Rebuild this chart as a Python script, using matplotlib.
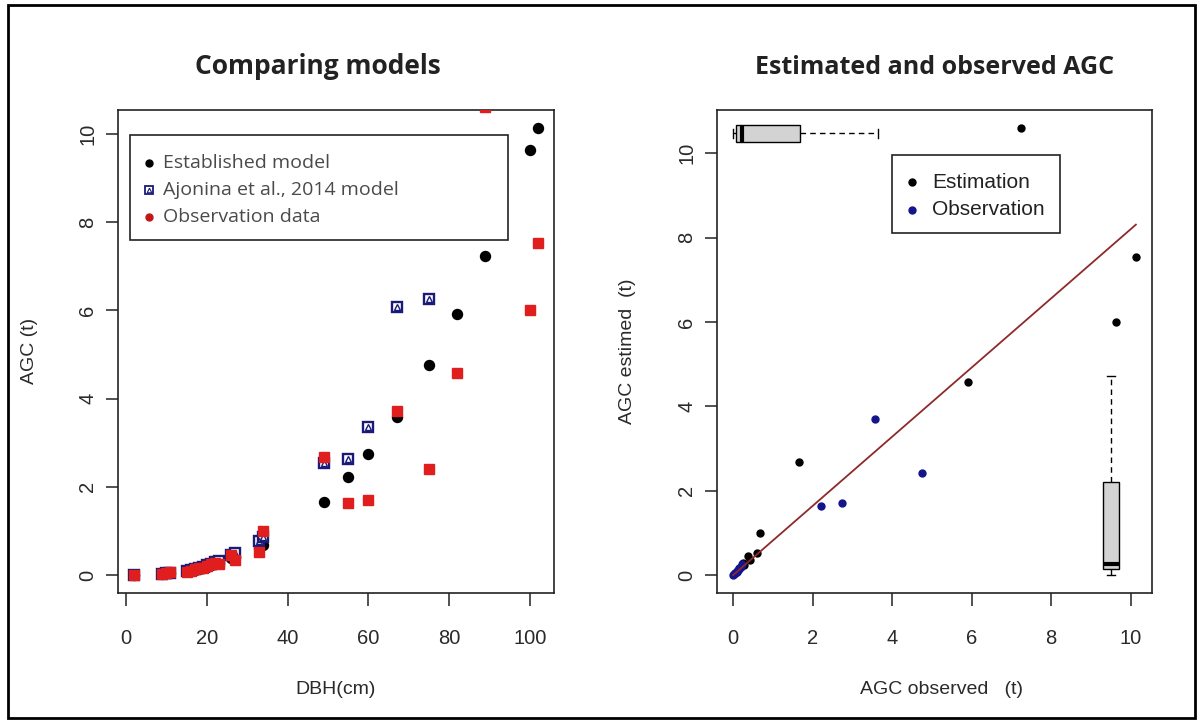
import matplotlib
matplotlib.use('Agg')
import matplotlib.pyplot as plt
from matplotlib.patches import Rectangle

W, H = 1203, 724

# diameter classes (cm) and carbon stock (t)
dbh = [2, 9, 10, 11, 15, 16, 17, 18, 19, 20, 21, 22, 23, 26, 27, 33, 34,
       49, 55, 60, 67, 75, 82, 89, 100, 102]
agc_established = [0.0, 0.03, 0.04, 0.05, 0.09, 0.10, 0.12, 0.14, 0.16, 0.19, 0.22, 0.25, 0.28,
                   0.38, 0.42, 0.61, 0.68, 1.66, 2.22, 2.74, 3.58, 4.76, 5.91, 7.23, 9.63, 10.13]
agc_observed = [0.0, 0.02, 0.04, 0.06, 0.07, 0.10, 0.13, 0.15, 0.17, 0.20, 0.26, 0.28, 0.25,
                0.45, 0.35, 0.53, 1.0, 2.68, 1.64, 1.70, 3.71, 2.41, 4.58, 10.6, 6.01, 7.53]
# Ajonina et al. 2014 model, only the trees that fall inside the plot
agc_ajonina = [0.0, 0.03, 0.04, 0.05, 0.10, 0.12, 0.14, 0.16, 0.18, 0.22, 0.26, 0.30,
               0.33, 0.45, 0.50, 0.78, 0.86, 2.55, 2.64, 3.36, 6.07, 6.25]

# which pairs are drawn black / blue on the second panel
idx_estimation = [11, 12, 13, 14, 15, 16, 17, 22, 23, 24, 25]
idx_observation = [0, 1, 2, 3, 4, 5, 6, 7, 8, 9, 10, 18, 19, 20, 21]

fit_intercept, fit_slope = 0.0, 0.82

# boxplot summaries
box_x = dict(whislo=0.0, q1=0.08, med=0.22, q3=1.67, whishi=3.65)
box_y = dict(whislo=0.0, q1=0.14, med=0.26, q3=2.21, whishi=4.71)

red = '#e01e1e'
navy = '#1a1a78'
blue = '#14148c'
txt = '#2a2a2a'
sans = 'Liberation Sans'


def px(x, y):
    return x / W, 1 - y / H


def r_lim(v):
    lo, hi = min(v), max(v)
    d = (hi - lo) * 0.04
    return lo - d, hi + d


def style(ax):
    for s in ax.spines.values():
        s.set_linewidth(1.2)
        s.set_color('#222222')
    ax.tick_params(length=9, width=1.1, color='#222222', labelsize=14.5, labelcolor=txt)
    ax.tick_params(axis='x', pad=17)
    ax.tick_params(axis='y', pad=6)
    for lab in ax.get_xticklabels() + ax.get_yticklabels():
        lab.set_fontfamily(sans)
    for lab in ax.get_yticklabels():
        lab.set_rotation(90)
        lab.set_verticalalignment('center')


fig = plt.figure(figsize=(W / 100, H / 100), dpi=100)
fig.patches.append(Rectangle(px(8, 718), 1187 / W, 713 / H, transform=fig.transFigure,
                             fill=False, lw=2, ec='black'))

ax1 = fig.add_axes([118 / W, 1 - 593 / H, 436 / W, 483 / H])
ax2 = fig.add_axes([717 / W, 1 - 593 / H, 435 / W, 483 / H])

# ---- left: comparing models
ax1.plot(dbh, agc_established, 'o', color='black', ms=7.2, zorder=3)
ax1.plot(dbh[:len(agc_ajonina)], agc_ajonina, 's', mfc='white', mec=navy, mew=1.7, ms=7, zorder=4)
ax1.plot(dbh[:len(agc_ajonina)], agc_ajonina, '^', mfc='none', mec=navy, mew=1.0, ms=4.5, zorder=4)
ax1.plot(dbh, agc_observed, 's', color=red, ms=7.5, zorder=5)
ax1.set_xlim(r_lim(dbh))
ax1.set_ylim(r_lim(agc_established))
ax1.set_xticks([0, 20, 40, 60, 80, 100])
ax1.set_yticks([0, 2, 4, 6, 8, 10])
style(ax1)

ax1.add_patch(Rectangle((0.0275, 0.731), 0.8665, 0.217, transform=ax1.transAxes,
                        fill=False, lw=1.2, ec='#222222', zorder=6))
leg1 = ['Established model', 'Ajonina et al., 2014 model', 'Observation data']
rows1 = [0.890, 0.834, 0.779]
ax1.plot(0.072, rows1[0], 'o', color='black', ms=5, transform=ax1.transAxes, clip_on=False)
ax1.plot(0.072, rows1[1], 's', mfc='white', mec=navy, mew=1.3, ms=5.5, transform=ax1.transAxes)
ax1.plot(0.072, rows1[1], '^', mfc='none', mec=navy, mew=0.8, ms=3.3, transform=ax1.transAxes)
ax1.plot(0.072, rows1[2], 'o', color='#c01818', ms=5, transform=ax1.transAxes)
for lab, yy in zip(leg1, rows1):
    ax1.text(0.1025, yy, lab, transform=ax1.transAxes, va='center', ha='left',
             fontsize=14, family='Open Sans', color='#4a4a4a')

# ---- right: estimated vs observed
est_x = [agc_established[i] for i in idx_estimation]
est_y = [agc_observed[i] for i in idx_estimation]
obs_x = [agc_established[i] for i in idx_observation]
obs_y = [agc_observed[i] for i in idx_observation]
ax2.plot(est_x, est_y, 'o', color='black', ms=5, zorder=3)
ax2.plot(obs_x, obs_y, 'o', color=blue, ms=5, zorder=3)
fx = [min(agc_established), max(agc_established)]
ax2.plot(fx, [fit_intercept + fit_slope * v for v in fx], color='#8e2a2a', lw=1.3, zorder=4)
ax2.set_xlim(r_lim(agc_established))
ax2.set_ylim(r_lim(agc_observed))

bp = dict(patch_artist=True, widths=0.39, capwidths=0.2, showfliers=False,
          boxprops=dict(facecolor='#d3d3d3', edgecolor='black', lw=1),
          medianprops=dict(color='black', lw=3),
          whiskerprops=dict(color='black', lw=1, ls=(0, (4, 3))),
          capprops=dict(color='black', lw=1), manage_ticks=False)
ax2.bxp([box_x], positions=[10.47], orientation='horizontal', **bp)
ax2.bxp([box_y], positions=[9.5], **bp)

ax2.set_xticks([0, 2, 4, 6, 8, 10])
ax2.set_yticks([0, 2, 4, 6, 8, 10])
style(ax2)

ax2.add_patch(Rectangle((0.403, 0.745), 0.386, 0.162, transform=ax2.transAxes,
                        fill=False, lw=1.2, ec='#222222', zorder=6))
rows2 = [0.850, 0.793]
ax2.plot(0.448, rows2[0], 'o', color='black', ms=5, transform=ax2.transAxes)
ax2.plot(0.448, rows2[1], 'o', color=blue, ms=5, transform=ax2.transAxes)
for lab, yy in zip(['Estimation', 'Observation'], rows2):
    ax2.text(0.494, yy, lab, transform=ax2.transAxes, va='center', ha='left',
             fontsize=15, family=sans, color='#222222')

# ---- titles and axis labels
fig.text(*px(318, 67), 'Comparing models', ha='center', va='center',
         fontsize=19, fontweight='bold', family='Open Sans', color='#222222')
fig.text(*px(935, 67), 'Estimated and observed AGC', ha='center', va='center',
         fontsize=18, fontweight='bold', family='Open Sans', color='#222222')
fig.text(*px(336, 689), 'DBH(cm)', ha='center', va='center', fontsize=14, family=sans, color=txt)
fig.text(*px(942, 689), 'AGC observed   (t)', ha='center', va='center', fontsize=14,
         family=sans, color=txt)
fig.text(*px(30, 351), 'AGC (t)', ha='center', va='center', rotation=90, fontsize=14,
         family=sans, color=txt)
fig.text(*px(628, 351), 'AGC estimed  (t)', ha='center', va='center', rotation=90,
         fontsize=14, family=sans, color=txt)

fig.savefig('out.png', dpi=100)
